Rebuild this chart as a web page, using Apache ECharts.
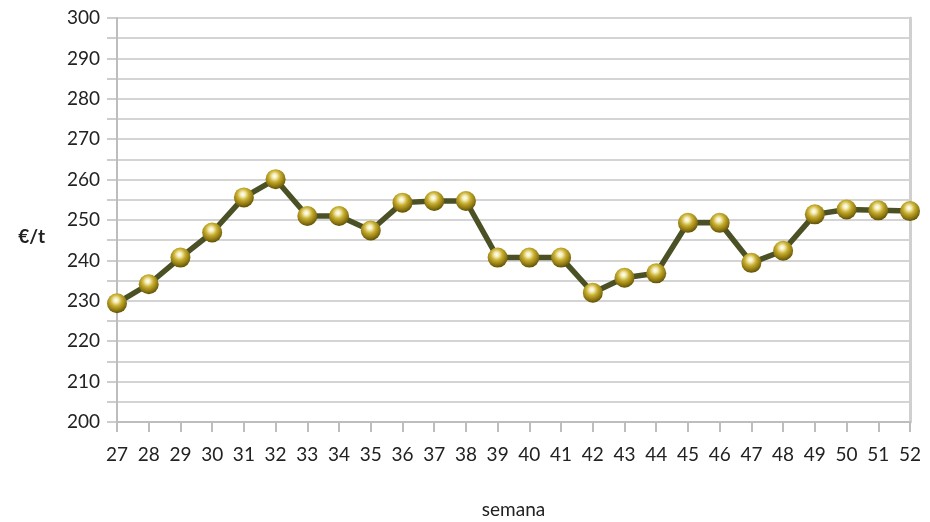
<!DOCTYPE html>
<html>
<head>
<meta charset="utf-8">
<script src="https://cdn.jsdelivr.net/npm/echarts@6/dist/echarts.min.js"></script>
<style>html,body{margin:0;padding:0;background:#fff}#c{width:930px;height:522px}</style>
</head>
<body>
<div id="c"></div>
<script>
const categories = ['27','28','29','30','31','32','33','34','35','36','37','38','39','40','41','42','43','44','45','46','47','48','49','50','51','52'];
const prices = [229.4,234.1,240.7,246.9,255.6,260.1,251.0,251.0,247.4,254.3,254.7,254.7,240.7,240.7,240.7,232.0,235.7,236.8,249.3,249.3,239.4,242.4,251.4,252.6,252.4,252.2];
const yMin = 200, yMax = 300, yStep = 5;

const font = 'Lato, "DejaVu Sans", sans-serif';
const chart = echarts.init(document.getElementById('c'));
chart.setOption({
  animation: false,
  backgroundColor: '#ffffff',
  grid: {left: 117, right: 20, top: 18, bottom: 100, containLabel: false, outerBoundsMode: 'none'},
  xAxis: {
    type: 'category', data: categories, boundaryGap: false,
    name: 'semana', nameLocation: 'middle', nameGap: 78,
    nameTextStyle: {fontFamily: font, fontSize: 19, color: '#222'},
    axisLine: {lineStyle: {color: '#bdbdbd', width: 2}},
    axisTick: {show: true, length: 10, lineStyle: {color: '#bdbdbd', width: 2}, alignWithLabel: true},
    axisLabel: {fontFamily: font, fontSize: 19, color: '#222', margin: 23},
    splitLine: {show: false}
  },
  yAxis: [{
    type: 'value', min: yMin, max: yMax, interval: yStep,
    name: '€/t', nameLocation: 'middle', nameRotate: 0, nameGap: 72,
    nameTextStyle: {fontFamily: font, fontSize: 19, fontWeight: 'bold', color: '#222', verticalAlign: 'top', padding: [7, 0, 0, 0]},
    axisLine: {show: true, lineStyle: {color: '#bdbdbd', width: 2}},
    axisTick: {show: true, length: 10, lineStyle: {color: '#bdbdbd', width: 1.5}},
    axisLabel: {fontFamily: font, fontSize: 19, color: '#222', margin: 17,
      formatter: v => (v % 10 === 0 ? String(v) : '')},
    splitLine: {show: true, lineStyle: {color: '#c6c6c6', width: 1.5}}
  }, {
    type: 'value', min: yMin, max: yMax, interval: yStep, position: 'right',
    axisLine: {show: true, lineStyle: {color: '#d0d0d0', width: 3}},
    axisTick: {show: false}, axisLabel: {show: false}, splitLine: {show: false}
  }],
  series: [{
    type: 'line', data: prices, yAxisIndex: 0,
    lineStyle: {color: '#4b5124', width: 5.5},
    symbol: 'circle', symbolSize: 20,
    itemStyle: {
      color: new echarts.graphic.RadialGradient(0.45, 0.35, 0.65, [
        {offset: 0, color: '#ffffff'},
        {offset: 0.18, color: '#f4edb8'},
        {offset: 0.45, color: '#c7ad2e'},
        {offset: 0.8, color: '#8a7410'},
        {offset: 1, color: '#5e4f05'}
      ]),
      borderWidth: 0
    },
    z: 3
  }]
});
</script>
</body>
</html>
